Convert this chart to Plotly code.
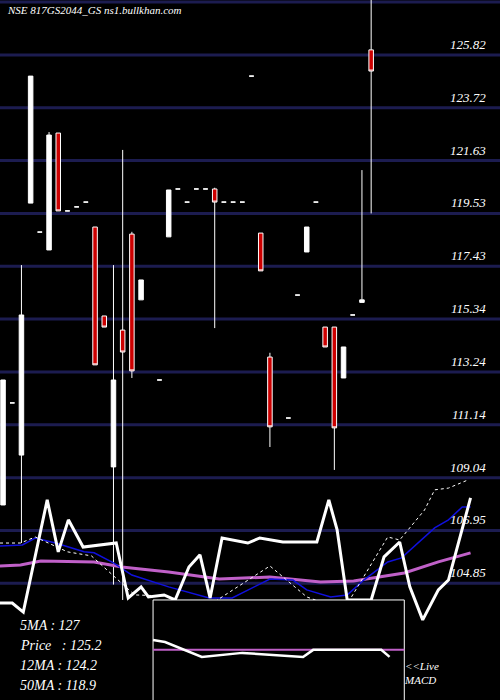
import plotly.graph_objects as go

# candles: index, open, high, low, close
c_idx = [0,1,2,3,4,5,6,7,8,9,10,11,12,13,14,15,17,18,19,20,21,22,23,24,25,26,27,28,29,31,32,33,34,35,36,37,38,39,40]
c_open = [107.96,112.01,109.94,119.94,118.79,118.08,122.72,119.63,119.79,119.98,118.99,115.46,109.47,114.90,118.71,116.10,112.92,118.60,120.50,119.98,120.50,120.50,120.50,119.98,119.98,119.98,124.98,118.75,113.83,111.41,116.29,118.00,119.98,115.02,115.02,113.00,115.50,116.00,126.02]
c_high = [112.92,112.01,117.48,124.98,118.79,122.76,122.72,119.63,119.79,119.98,118.99,115.46,117.48,122.05,118.80,116.89,112.92,120.46,120.50,119.98,120.50,120.50,120.55,119.98,119.98,119.98,124.98,118.75,114.00,111.41,116.29,118.99,119.98,115.02,115.02,114.23,115.50,121.25,128.00]
c_low = [107.96,112.01,106.45,119.94,118.79,118.08,119.63,119.63,119.79,119.98,113.52,115.02,104.80,104.19,113.00,116.10,112.92,118.60,120.50,119.98,120.50,120.50,114.98,119.98,119.98,119.98,124.98,117.25,110.26,111.41,116.29,118.00,119.98,114.23,109.35,113.00,115.50,116.00,119.53]
c_close = [112.92,112.01,115.50,124.98,118.79,122.64,119.63,119.63,119.79,119.98,113.52,115.02,112.92,114.03,113.28,116.89,112.92,120.46,120.50,119.98,120.50,120.50,119.98,119.98,119.98,119.98,124.98,117.25,111.06,111.41,116.29,118.99,119.98,114.23,111.02,114.23,115.50,116.10,125.18]

osc_x = [-0.33,1.0,2.2,4.8,6.0,7.1,8.7,12.3,13.6,15.0,15.8,17.5,18.7,20.2,21.4,22.5,23.8,26.6,27.9,30.4,34.1,35.4,36.3,37.4,40.0,41.4,43.1,44.2,45.6,47.3,48.4,50.8]
osc_y = [104.07,104.07,103.71,108.16,106.10,107.37,106.29,106.45,104.27,104.71,104.31,104.39,104.19,105.50,105.98,104.27,106.65,106.45,106.65,106.49,106.49,108.16,106.97,104.19,104.19,105.90,106.49,104.71,103.40,104.59,104.98,108.24]
blue_x = [-0.33,2.1,3.5,5.7,8.8,9.9,12.0,14.0,18.0,22.4,24.9,29.0,31.5,33.0,35.6,37.4,39.2,41.8,43.3,45.1,46.9,48.4,49.9,50.8]
blue_y = [106.33,106.37,106.65,106.45,106.10,106.06,105.66,105.18,104.71,104.27,104.27,105.02,104.98,104.59,104.31,104.39,104.98,105.70,105.86,106.45,107.05,107.37,107.88,107.88]
mag_x = [-0.33,1.9,4.1,9.9,12.9,18.0,23.5,29.0,34.5,38.1,43.6,47.3,50.8]
mag_y = [105.54,105.58,105.74,105.70,105.50,105.30,105.02,105.10,104.90,104.94,105.26,105.70,106.06]
dot_x = [-0.33,1.9,3.5,7.0,9.6,12.5,14.3,17.6,21.6,29.0,33.0,37.0,39.2,41.8,43.1,45.8,46.9,48.4,50.5]
dot_y = [106.45,106.45,106.69,106.10,105.94,104.98,104.39,104.35,103.79,105.54,104.31,103.79,105.10,106.69,106.57,107.76,108.56,108.63,108.95]
macd_x = [16.3,17.6,21.6,26.0,32.6,33.7,41.1,42.0]
macd_y = [102.60,102.52,101.93,102.09,101.93,102.21,102.21,101.93]
sig_level = 102.21

tick_vals = [104.85,106.95,109.04,111.14,113.24,115.34,117.43,119.53,121.63,123.72,125.82]
grid_extra = [127.92]
info = ["5MA : 127", "Price   : 125.2", "12MA : 124.2", "50MA : 118.9"]

XR = [-0.33, 54.0]
YR = [100.22, 128.0]
FONT = "Liberation Serif"

fig = go.Figure()
fig.add_trace(go.Candlestick(x=c_idx, open=c_open, high=c_high, low=c_low, close=c_close,
    increasing=dict(fillcolor="white", line=dict(color="white", width=1)),
    decreasing=dict(fillcolor="#cc0000", line=dict(color="white", width=1)),
    whiskerwidth=0, showlegend=False, hoverinfo="skip"))
fig.add_trace(go.Scatter(x=mag_x, y=mag_y, mode="lines", line=dict(color="#c060c8", width=3), hoverinfo="skip"))
fig.add_trace(go.Scatter(x=blue_x, y=blue_y, mode="lines", line=dict(color="#1010dd", width=1.5), hoverinfo="skip"))
fig.add_trace(go.Scatter(x=dot_x, y=dot_y, mode="lines", line=dict(color="white", width=1, dash="dot"), hoverinfo="skip"))
fig.add_trace(go.Scatter(x=osc_x, y=osc_y, mode="lines", line=dict(color="white", width=3), hoverinfo="skip"))
# MACD inset box
bx0, bx1, by0, by1 = 16.3, 43.6, 99.0, 104.19
fig.add_trace(go.Scatter(x=[bx0,bx1,bx1,bx0,bx0], y=[by0,by0,by1,by1,by0], mode="lines", fill="toself",
    fillcolor="black", line=dict(color="white", width=1), hoverinfo="skip"))
fig.add_trace(go.Scatter(x=[bx0,bx1], y=[sig_level,sig_level], mode="lines", line=dict(color="#c060c8", width=2), hoverinfo="skip"))
fig.add_trace(go.Scatter(x=macd_x, y=macd_y, mode="lines", line=dict(color="white", width=2.5), hoverinfo="skip"))

for v in tick_vals + grid_extra:
    fig.add_shape(type="line", xref="paper", x0=0, x1=1, y0=v, y1=v, layer="below",
                  line=dict(color="#1c1c50", width=3))
for v in tick_vals:
    fig.add_annotation(x=0.975, xref="paper", y=v, yanchor="bottom", xanchor="right", yshift=1,
                       text=f"<i>{v:.2f}</i>", showarrow=False, font=dict(family=FONT, size=13, color="white"))

fig.add_annotation(x=0.01, y=0.997, xref="paper", yref="paper", xanchor="left", yanchor="top",
                   text="<i>NSE 817GS2044_GS ns1.bullkhan.com</i>", showarrow=False,
                   font=dict(family=FONT, size=11, color="white"))
for k, t in enumerate(info):
    fig.add_annotation(x=0.035, y=1 - (625 + 20*k)/700, xref="paper", yref="paper", xanchor="left", yanchor="middle",
                       text=f"<i>{t}</i>", showarrow=False, font=dict(family=FONT, size=14, color="white"))
fig.add_annotation(x=0.803, y=1 - 673/700, xref="paper", yref="paper", xanchor="left", yanchor="middle",
                   text="<i>&lt;&lt;Live<br>MACD</i>", showarrow=False, align="left",
                   font=dict(family=FONT, size=11, color="white"))

fig.update_layout(width=500, height=700, margin=dict(l=0, r=0, t=0, b=0),
                  paper_bgcolor="black", plot_bgcolor="black", showlegend=False,
                  xaxis=dict(range=XR, visible=False, rangeslider=dict(visible=False), fixedrange=True),
                  yaxis=dict(range=YR, visible=False, fixedrange=True))
fig.write_html("out.html", config={"displayModeBar": False},
               post_script="document.body.style.margin='0';document.body.style.overflow='hidden';")
